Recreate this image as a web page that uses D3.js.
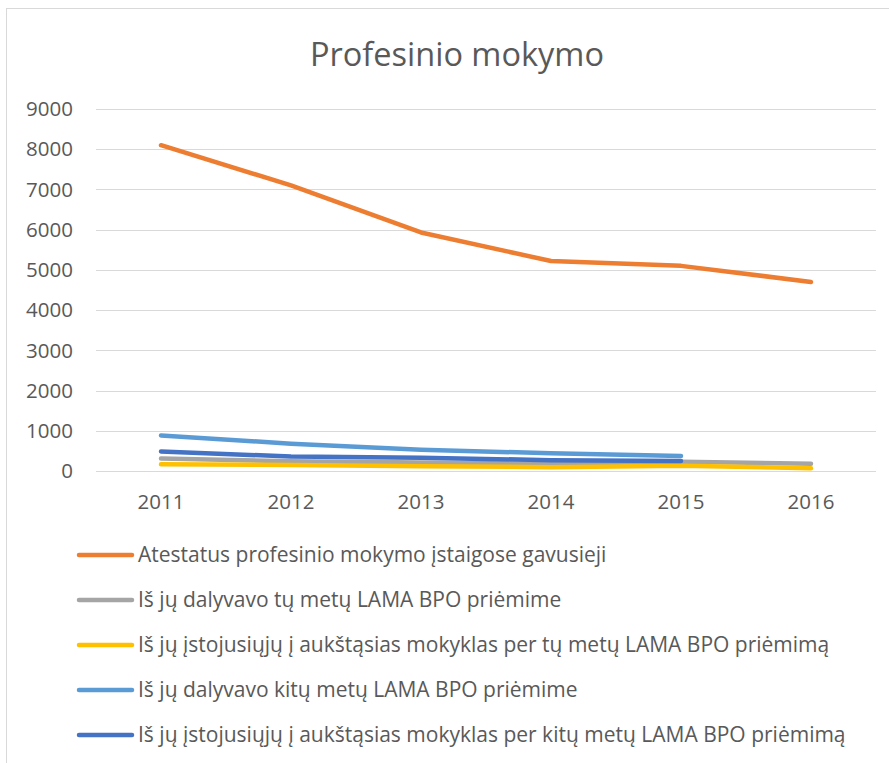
<!DOCTYPE html>
<html>
<head>
<meta charset="utf-8">
<script src="https://cdn.jsdelivr.net/npm/d3@7"></script>
<style>
  body { margin: 0; background: #fff; }
  text { font-family: "Open Sans", "Liberation Sans", sans-serif; fill: #595959; }
</style>
</head>
<body>
<svg id="drawing_region"></svg>
<script>
// data
const years = ['2011', '2012', '2013', '2014', '2015', '2016'];
const seriesNames = [
    'Atestatus profesinio mokymo įstaigose gavusieji',
    'Iš jų dalyvavo tų metų LAMA BPO priėmime',
    'Iš jų įstojusiųjų į aukštąsias mokyklas per tų metų LAMA BPO priėmimą',
    'Iš jų dalyvavo kitų metų LAMA BPO priėmime',
    'Iš jų įstojusiųjų į aukštąsias mokyklas per kitų metų LAMA BPO priėmimą'
];
const atestatai = [8100, 7100, 5930, 5220, 5100, 4700];
const dalyvavoTu = [310, 240, 210, 180, 230, 180];
const istojoTu = [170, 150, 120, 95, 130, 70];
const dalyvavoKitu = [885, 680, 530, 440, 375, null];
const istojoKitu = [485, 360, 330, 270, 250, null];
const yTicks = [0, 1000, 2000, 3000, 4000, 5000, 6000, 7000, 8000, 9000];
const colors = ['#ED7D31', '#A5A5A5', '#FFC000', '#5B9BD5', '#4472C4'];

const allSeries = [atestatai, dalyvavoTu, istojoTu, dalyvavoKitu, istojoKitu];

const width = 889, height = 763;
const margin = { top: 109, left: 96, right: 13, bottom: 292 };

const svg = d3.select('#drawing_region')
    .attr('width', width)
    .attr('height', height);

// chart frame
svg.append('rect')
    .attr('x', 6.5).attr('y', 8.5)
    .attr('width', 900).attr('height', 800)
    .attr('fill', 'none')
    .attr('stroke', '#D9D9D9');

svg.append('text')
    .attr('x', 457).attr('y', 66)
    .attr('text-anchor', 'middle')
    .style('font-size', '32.5px')
    .text('Profesinio mokymo');

const x = d3.scaleBand()
    .domain(years)
    .range([margin.left, width - margin.right]);

const y = d3.scaleLinear()
    .domain([0, 9000])
    .range([height - margin.bottom, margin.top]);

// gridlines
svg.append('g')
    .selectAll('line')
    .data(yTicks)
    .enter()
    .append('line')
    .attr('x1', margin.left)
    .attr('x2', width - margin.right)
    .attr('y1', d => Math.round(y(d)) + 0.5)
    .attr('y2', d => Math.round(y(d)) + 0.5)
    .attr('stroke', '#D9D9D9')
    .attr('stroke-width', 1);

// y labels
svg.append('g')
    .selectAll('text')
    .data(yTicks)
    .enter()
    .append('text')
    .attr('x', 73)
    .attr('y', d => y(d))
    .attr('dy', '0.35em')
    .attr('text-anchor', 'end')
    .style('font-size', '20.5px')
    .text(d => d);

// x labels
svg.append('g')
    .selectAll('text')
    .data(years)
    .enter()
    .append('text')
    .attr('x', d => x(d) + x.bandwidth() / 2)
    .attr('y', 509)
    .attr('text-anchor', 'middle')
    .style('font-size', '20.5px')
    .text(d => d);

const line = d3.line()
    .defined(d => d != null)
    .x((d, i) => x(years[i]) + x.bandwidth() / 2)
    .y(d => y(d));

svg.append('g')
    .selectAll('path')
    .data(allSeries)
    .enter()
    .append('path')
    .attr('d', d => line(d))
    .attr('fill', 'none')
    .attr('stroke', (d, i) => colors[i])
    .attr('stroke-width', 4.5)
    .attr('stroke-linecap', 'round')
    .attr('stroke-linejoin', 'round');

// legend
const legend = svg.append('g')
    .selectAll('g')
    .data(seriesNames)
    .enter()
    .append('g')
    .attr('transform', (d, i) => `translate(0, ${555 + i * 45})`);

legend.append('line')
    .attr('x1', 79).attr('x2', 132)
    .attr('y1', 0).attr('y2', 0)
    .attr('stroke', (d, i) => colors[i])
    .attr('stroke-width', 4.5)
    .attr('stroke-linecap', 'round');

legend.append('text')
    .attr('x', 138)
    .attr('y', 0)
    .attr('dy', '0.35em')
    .style('font-size', '21px')
    .text(d => d);
</script>
</body>
</html>
